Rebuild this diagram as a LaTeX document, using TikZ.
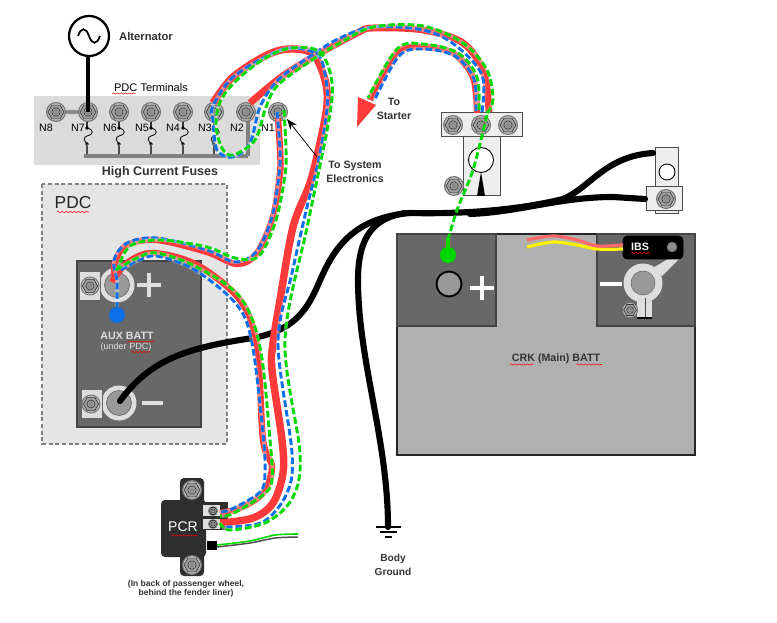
\documentclass[tikz,border=0pt]{standalone}
\usepackage{fontspec}
\setmainfont{Liberation Sans}
\usetikzlibrary{decorations.pathmorphing,arrows.meta}
\definecolor{wred}{HTML}{FF3A3A}
\definecolor{wblue}{HTML}{0A6FE8}
\definecolor{wgreen}{HTML}{00D800}
\definecolor{batdark}{HTML}{686868}
\definecolor{batedge}{HTML}{444444}
\definecolor{partlight}{HTML}{EEEEEE}
\definecolor{washer}{HTML}{DEDEDE}
\definecolor{postg}{HTML}{999999}
\tikzset{
  wirered/.style={draw=wred,line width=4.8pt,line join=round},
  halo/.style={draw=white,line width=2.7pt,opacity=.4},
  wireblue/.style={draw=wblue,line width=2.2pt,dash pattern=on 5pt off 2.2pt},
  wiregreen/.style={draw=wgreen,line width=2.2pt,dash pattern=on 5pt off 2.2pt},
  blackwire/.style={draw=black,line width=4.6pt,line cap=round},
  lab/.style={inner sep=0pt,align=center,text=black},
  squig/.style={draw=red,line width=.4pt,decorate,decoration={snake,amplitude=.5pt,segment length=3pt}},
  part/.style={draw=black!70,fill=partlight,line width=.75pt},
  bolt/.pic={
    \fill[fill=black!55] (0,0) circle (10);
    \fill[fill=black!25] (0,0) circle (8.8);
    \draw[fill=black!38,line width=.45pt,draw=black!80] (0:8)--(60:8)--(120:8)--(180:8)--(240:8)--(300:8)--cycle;
    \draw[fill=black!32,line width=.45pt,draw=black!80] (0,0) circle (4.2);
    \fill[fill=black!45] (0,0) circle (3);
  }
}
\newcommand\redw[2][4.8pt]{\draw[wirered,line width=#1] plot[smooth,tension=.55] coordinates {#2};}
\newcommand\bluew[1]{\draw[halo] plot[smooth,tension=.55] coordinates {#1};\draw[wireblue] plot[smooth,tension=.55] coordinates {#1};}
\newcommand\greenw[1]{\draw[halo] plot[smooth,tension=.55] coordinates {#1};\draw[wiregreen] plot[smooth,tension=.55] coordinates {#1};}
\newcommand\fs[1]{\fontsize{#1}{#1}\selectfont}
\begin{document}
\begin{tikzpicture}[x=.75pt,y=-.75pt]
\useasboundingbox (0,0) rectangle (777,623);
\fill[white] (0,0) rectangle (777,623);

% ---------- PDC terminal panel
\fill[black!14] (34,96) rectangle (260,165);
\foreach \x in {87,119,151,183,214}{
  \draw[black!80,line width=.9pt] (\x,118) -- (\x,128);
  \draw[black,line width=.6pt] (\x,128) .. controls (\x+8,130) and (\x+6,135) .. (\x,136) .. controls (\x-4,137) and (\x-3,141) .. (\x,144);
  \fill[black] (\x,128) circle (1.9);
  \fill[black] (\x,144) circle (1.9);
  \draw[black!70,line width=.9pt] (\x,144) -- (\x,156);
}
\draw[black!50,line width=3pt] (84,156) -- (248,156);
\draw[black!50,line width=3pt] (248,120) -- (248,156);
\draw[black!45,line width=3pt] (62,112) -- (82,112);
\foreach \x in {56,88,119,151,183,214,246,278}{\pic at (\x,112) {bolt};}
\foreach \x/\n in {46/N8,78/N7,110/N6,142/N5,173/N4,205/N3,237/N2,268/N1}{
  \node[lab,font=\fs{8}] (t\n) at (\x,128) {\n};
}
\node[lab,font=\fs{8.3}] (pdcterm) at (151,88) {PDC Terminals};
\draw[squig] (112,93.5) -- (135,93.5);
\node[lab,font=\fs{9.4}\bfseries,text=black!80] (hcf) at (160,172) {High Current Fuses};

% ---------- Alternator
\draw[black,line width=3pt] (88,112) -- (88,54);
\draw[black,line width=1.7pt,fill=white] (89,36) circle (20);
\draw[black,line width=1.3pt] (78,36) .. controls (81,27) and (86,27) .. (89,36) .. controls (92,45) and (97,45) .. (100,36);
\node[lab,font=\fs{8.4}\bfseries,text=black!80] (alt) at (146,37) {Alternator};

% ---------- PDC box
\draw[black!50,fill=black!10,line width=1.5pt,dash pattern=on 3pt off 2pt] (42,184) rectangle (227,444);
\node[lab,font=\fs{13},text=black!85] (pdc) at (73,203) {PDC};
\draw[squig] (57,212) -- (89,212);

% ---------- AUX battery
\draw[batedge,fill=batdark,line width=1.4pt] (77,261) rectangle (201,427);
\fill[washer] (117,285) circle (17.5);
\draw[black!60,fill=postg,line width=.5pt] (117,285) circle (12.5);
\draw[black!60,fill=washer,line width=.5pt] (79,271) rectangle (100,300);
\pic[scale=.95] at (90,286) {bolt};
\draw[washer,line width=2.6pt] (137,285) -- (161,285);
\draw[washer,line width=2.6pt] (149,273) -- (149,297);
\fill[washer] (119,403) circle (17.5);
\draw[black!60,fill=postg,line width=.5pt] (119,403) circle (12.5);
\draw[black!60,fill=washer,line width=.5pt] (81,389) rectangle (102,418);
\pic[scale=.95] at (91,404) {bolt};
\draw[washer,line width=2.6pt] (142,403) -- (163,403);
\node[lab,font=\fs{8}\bfseries,text=washer] (aux) at (127,336) {AUX BATT};
\draw[squig] (127,341.5) -- (154,341.5);
\node[lab,font=\fs{6.8},text=washer] (under) at (126,347) {(under PDC)};
\draw[squig] (131,352) -- (150,352);

% ---------- CRK battery
\draw[black!85,fill=black!31,line width=1.5pt] (397,234) rectangle (695,455);
\draw[batedge,fill=batdark,line width=1.4pt] (397,234) rectangle (496,326);
\draw[batedge,fill=batdark,line width=1.4pt] (597,234) rectangle (695,326);
\draw[black,fill=postg,line width=1.4pt] (449,284) circle (12.5);
\draw[white,line width=3pt] (470,288) -- (494,288);
\draw[white,line width=3pt] (482,276) -- (482,300);
\draw[white,line width=3pt] (600,284) -- (622,284);
\node[lab,font=\fs{8}\bfseries,text=black!80] (crk) at (556,359) {CRK (Main) BATT};
\draw[squig] (510,364.5) -- (533,364.5);
\draw[squig] (576,364.5) -- (602,364.5);

% clamp
\fill[washer] (653,268) -- (668,259) -- (679,259) -- (662,276) -- cycle;
\fill[washer] (637,295) -- (637,318) -- (652,318) -- (652,295) -- cycle;
\fill[washer] (643,283) circle (19.5);
\draw[black!60,fill=postg,line width=.4pt] (643,283) circle (12);
\draw[black!70,line width=.7pt] (645,298) -- (645,318);
\draw[black,line width=1.5pt] (637,318) -- (652,318);
\pic[scale=.8] at (630,310) {bolt};
\draw[black,fill=black,rounded corners=3pt] (623,236) rectangle (683,259);
\node[lab,font=\fs{8}\bfseries,text=white] (ibs) at (640,247) {IBS};
\draw[squig] (631,253) -- (650,253);
\draw[black!60,fill=black!45,line width=.4pt] (672,247) circle (5);

% signal pair
\draw[draw=yellow,line width=2.4pt] plot[smooth,tension=.55] coordinates {(527,247) (553,242) (577,245) (597,249) (623,249)};
\draw[draw=wred!75!white,line width=2.4pt] plot[smooth,tension=.55] coordinates {(527,240) (553,236) (577,240) (597,246) (623,245)};

% ---------- Right top terminal
\draw[part] (655,148) rectangle (678,214);
\draw[black,fill=white,line width=.7pt] (667,172) circle (8);
\draw[part] (646,187) rectangle (682,211);
\pic at (666,199) {bolt};

% ---------- Junction block
\draw[part] (463,137) rectangle (500,196);
\draw[black,fill=white,line width=.7pt] (481,160) circle (12.5);
\fill[black] (477,196) -- (481,172) -- (485,196) -- cycle;
\draw[part] (441,113) rectangle (522,137);
\foreach \x in {453,481,508}{\pic at (\x,125) {bolt};}
\pic at (454,186) {bolt};

% ---------- black cables
\draw[blackwire] (120,401) .. controls (150,360) and (185,348) .. (253,338) .. controls (290,331) and (305,315) .. (318,285) .. controls (332,252) and (350,218) .. (410,213) .. controls (450,214) and (510,212) .. (563,199) .. controls (590,188) and (605,156) .. (653,153);
\draw[blackwire] (470,214) .. controls (520,212) and (560,197) .. (613,197) -- (645,199);
\draw[blackwire] (405,213) .. controls (375,218) and (358,235) .. (358,280) .. controls (358,360) and (388,440) .. (388,527);
\draw[black,line width=1pt] (376,527) -- (401,527);
\draw[black,line width=1pt] (380,532) -- (397,532);
\draw[black,line width=1pt] (385,537) -- (392,537);
\node[lab,font=\fs{7.6}\bfseries,text=black!80] (body) at (393,565) {Body\\[2.4pt]Ground};

% ---------- PCR
\fill[black!82,rounded corners=3pt] (180,478) rectangle (204,576);
\fill[black!82,rounded corners=3pt] (161,500) rectangle (206,557);
\fill[black!82] (202,502) rectangle (228,530);
\fill[black!12] (203,505) rectangle (220,516);
\fill[black!12] (203,519) rectangle (220,529);
\pic[scale=.5] at (213,511) {bolt};
\pic[scale=.5] at (213,524) {bolt};
\pic at (192,490) {bolt};
\pic at (192,565) {bolt};
\node[lab,font=\fs{10.5},text=white] (pcr) at (183,527) {PCR};
\draw[squig] (171,535.5) -- (197,535.5);
\fill[black] (207,541) rectangle (217,550);
\draw[black!70,line width=1.1pt] plot[smooth,tension=.5] coordinates {(217,547) (250,543) (275,538) (298,537)};
\draw[wgreen,line width=1.2pt] plot[smooth,tension=.5] coordinates {(217,545) (250,541) (275,535) (298,534)};
\node[lab,font=\fs{6.4}\bfseries,text=black!80] (cap) at (186,588.5) {(In back of passenger wheel,\\[.5pt]behind the fender liner)};

% ---------- red wires
\redw[5.6pt]{(213,103) (233,77) (267,55) (290,49) (313,54) (325,80) (327,105) (320,143) (310,183) (293,227) (280,300) (273,343) (272,370) (282,440) (283,473) (273,503) (253,518) (220,523)}
\redw[5.2pt]{(250,103) (280,78) (313,57) (357,33) (373,28) (423,30) (463,43) (484,73) (489,112)}
\redw{(278,118) (280,150) (280,173) (273,217) (257,253) (237,264) (207,252) (157,240) (127,245) (115,262) (115,278)}
\redw{(112,282) (127,263) (153,253) (197,265) (240,300) (257,347) (263,440) (272,467) (263,493) (240,508) (220,513)}
\redw{(477,113) (473,77) (453,53) (423,47) (397,53) (370,100)}
\fill[wred] (357,127) -- (358,97) -- (376,105) -- cycle;

% ---------- blue wires
\bluew{(277,112) (280,150) (279,175) (272,217) (257,251) (235,262) (207,250) (157,238) (127,243) (114,260) (117,281) (117,306)}
\bluew{(121,270) (137,261) (157,256) (195,270) (237,305) (252,343) (263,433) (265,473) (260,492) (232,509) (220,512)}
\bluew{(482,112) (482,75) (455,45) (423,30) (373,27) (340,38) (312,55) (278,80) (260,107) (250,143) (233,157) (217,150) (213,120) (213,106) (232,78) (267,56) (292,48) (318,55) (326,80) (327,110) (318,163) (307,207) (292,273) (278,343) (292,453) (287,493) (263,522) (225,527)}
\bluew{(476,111) (474,79) (455,56) (423,49) (399,56) (374,101)}
% ---------- green wires
\greenw{(284,110) (286,150) (285,175) (276,220) (259,256) (235,258) (207,247) (160,240) (130,246) (118,268)}
\greenw{(116,270) (137,258) (157,253) (197,267) (240,297) (260,347) (270,440) (272,480) (263,495) (232,514) (220,516)}
\greenw{(487,113) (493,100) (487,70) (463,43) (423,26) (373,27) (340,43) (312,60) (278,85) (266,107) (255,140) (233,155) (222,148) (216,125) (221,100) (239,78) (267,57) (292,48) (320,52) (332,83) (328,125) (308,223) (285,340) (300,453) (293,497) (267,522) (230,530) (220,523)}
\greenw{(479,110) (477,77) (458,53) (423,44) (397,49) (368,98)}
\draw[wiregreen] plot[smooth,tension=.5] coordinates {(487,115) (473,170) (457,210) (448,240)};
\draw[wgreen,line width=2.4pt] (448,238) -- (448,254);
\fill[wgreen] (448,255) circle (8);
\fill[wblue] (117,315) circle (8);

% ---------- To labels
\node[lab,font=\fs{8}\bfseries,text=black!80] (starter) at (394,109) {To\\[2.2pt]Starter};
\node[lab,font=\fs{8}\bfseries,text=black!80] (sys) at (355,172) {To System\\[2.2pt]Electronics};
\coordinate (n1tip) at (287,119);
\coordinate (sysfrom) at (317,157);
\draw[-{Stealth[length=8pt,width=6pt]},black,line width=.6pt] (sysfrom) -- (n1tip);
\end{tikzpicture}
\end{document}
